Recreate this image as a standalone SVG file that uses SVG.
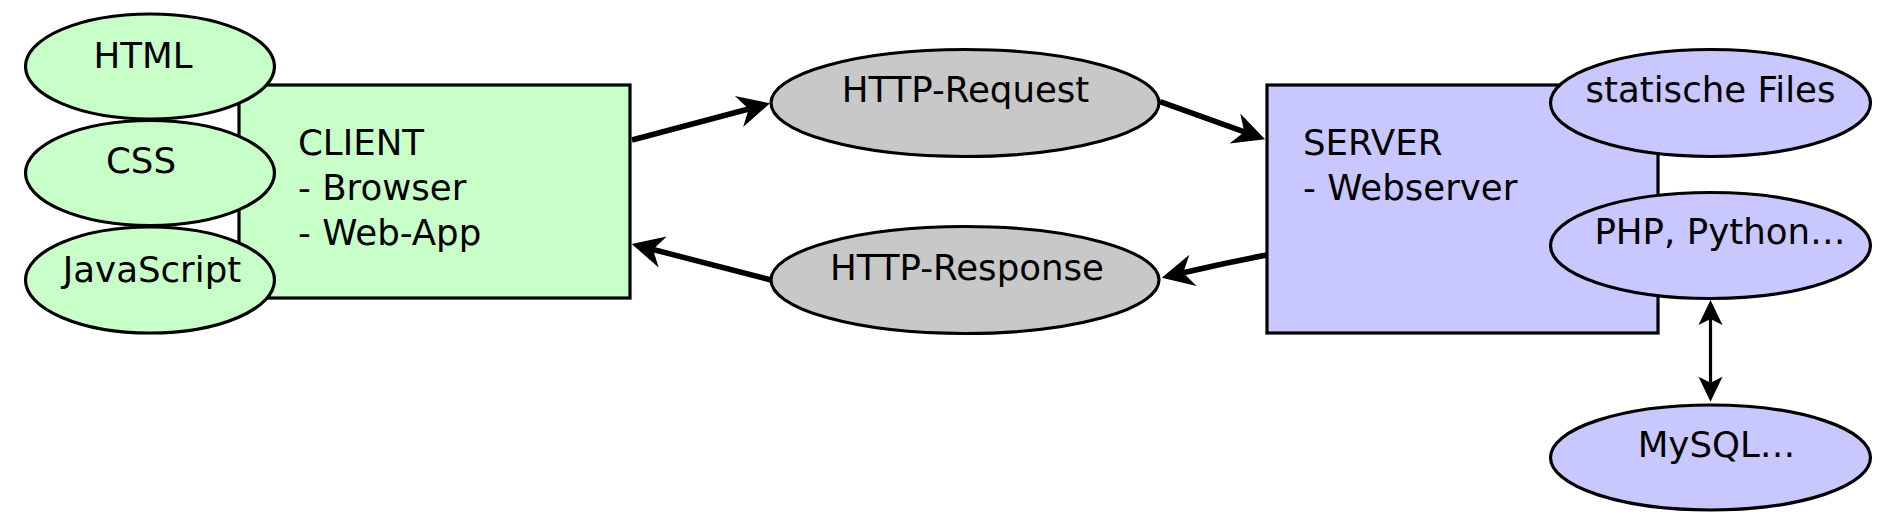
<svg xmlns="http://www.w3.org/2000/svg" width="1898" height="528" viewBox="0 0 1898 528">
<style>
  .shape { stroke: #000; stroke-width: 3.2; }
  .green { fill: #c8ffc8; }
  .blue { fill: #c8c8ff; }
  .grey { fill: #c8c8c8; }
  text { font-family: "DejaVu Sans", "Liberation Sans", sans-serif; font-size: 35.6px; fill: #000; }
  .c { text-anchor: middle; }
  .conn { stroke: #000; fill: none; }
  .thick { stroke-width: 5.5; }
  .thin { stroke-width: 3.2; }
</style>
<defs>
  <marker id="bigArrow" markerUnits="userSpaceOnUse" markerWidth="80" markerHeight="80" refX="0" refY="0" viewBox="-40 -40 80 80" orient="auto" overflow="visible">
    <path d="M22,0 L-10,-16 L0,0 L-10,16 Z" fill="#000"/>
  </marker>
  <marker id="smallArrow" markerUnits="userSpaceOnUse" markerWidth="60" markerHeight="60" refX="0" refY="0" viewBox="-30 -30 60 60" orient="auto-start-reverse" overflow="visible">
    <path d="M19,0 L-6,-12 L0,0 L-6,12 Z" fill="#000"/>
  </marker>
</defs>

<g id="client">
  <rect class="shape green" x="239" y="85" width="391" height="213"/>
  <text x="298" y="155">CLIENT</text>
  <text x="298" y="200">- Browser</text>
  <text x="298" y="245">- Web-App</text>
</g>
<g id="html">
  <ellipse class="shape green" cx="150" cy="66.5" rx="124.5" ry="52.5"/>
  <text class="c" x="143" y="68">HTML</text>
</g>
<g id="css">
  <ellipse class="shape green" cx="150" cy="173" rx="124.5" ry="52.5"/>
  <text class="c" x="141" y="173">CSS</text>
</g>
<g id="javascript">
  <ellipse class="shape green" cx="150" cy="280" rx="124.5" ry="53"/>
  <text class="c" x="152" y="282">JavaScript</text>
</g>

<g id="server">
  <rect class="shape blue" x="1267" y="85" width="391" height="248"/>
  <text x="1303" y="155">SERVER</text>
  <text x="1303" y="200">- Webserver</text>
</g>
<g id="statische-files">
  <ellipse class="shape blue" cx="1710.5" cy="103" rx="160" ry="53.5"/>
  <text class="c" x="1710.5" y="101.5">statische Files</text>
</g>
<g id="php-python">
  <ellipse class="shape blue" cx="1710.5" cy="245.5" rx="160" ry="53"/>
  <text class="c" x="1720" y="243.5">PHP, Python…</text>
</g>
<g id="mysql">
  <ellipse class="shape blue" cx="1710.5" cy="457.5" rx="160" ry="52.5"/>
  <text class="c" x="1716.5" y="456.5">MySQL…</text>
</g>

<g id="http-request">
  <ellipse class="shape grey" cx="965" cy="103" rx="194" ry="53.5"/>
  <text class="c" x="965.5" y="101.5">HTTP-Request</text>
</g>
<g id="http-response">
  <ellipse class="shape grey" cx="965" cy="280" rx="194" ry="53.5"/>
  <text class="c" x="967" y="280">HTTP-Response</text>
</g>

<g id="connectors">
  <line class="conn thick" x1="632" y1="140" x2="748.7" y2="109" marker-end="url(#bigArrow)"/>
  <line class="conn thick" x1="1160" y1="101.7" x2="1244.3" y2="131.9" marker-end="url(#bigArrow)"/>
  <path class="conn thick" d="M1266.7,255 Q1225,263 1183.2,272.7" marker-end="url(#bigArrow)"/>
  <line class="conn thick" x1="771" y1="280" x2="653" y2="249.5" marker-end="url(#bigArrow)"/>
  <line class="conn thin" x1="1710.5" y1="319" x2="1710.5" y2="382.7" marker-start="url(#smallArrow)" marker-end="url(#smallArrow)"/>
</g>
</svg>
